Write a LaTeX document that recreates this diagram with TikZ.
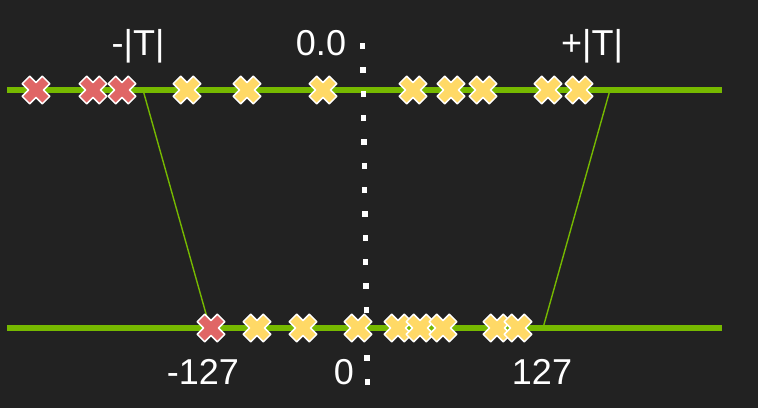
\documentclass[tikz,border=0pt]{standalone}
\usepackage{fontspec}
\setmainfont{Liberation Sans}
\definecolor{bg}{HTML}{222222}
\definecolor{lgreen}{RGB}{118,185,0}
\definecolor{xred}{RGB}{224,102,102}
\definecolor{xyellow}{RGB}{255,217,102}
\tikzset{
  axisline/.style={draw=lgreen, line width=6pt},
  mapline/.style={draw=lgreen, line width=1.4pt},
  dotsq/.style={fill=white},
  xmk/.style={draw=white, line width=1.5pt, line join=round, fill=#1},
  lbl/.style={text=white, inner sep=0pt, anchor=base, font=\fontsize{36}{40}\selectfont}
}
\newcommand\xcross[3]{%
  \path[xmk=#3, shift={(#1,#2)}, rotate=45]
    (-5.3,-14.2)--(5.3,-14.2)--(5.3,-5.3)--(14.2,-5.3)--(14.2,5.3)--(5.3,5.3)--(5.3,14.2)
    --(-5.3,14.2)--(-5.3,5.3)--(-14.2,5.3)--(-14.2,-5.3)--(-5.3,-5.3)--cycle;}
\begin{document}
\begin{tikzpicture}[x=1pt,y=-1pt]
\fill[bg] (0,0) rectangle (758,408);
\useasboundingbox (0,0) rectangle (758,408);
% axes
\coordinate (tl) at (7,90);
\coordinate (tr) at (722,90);
\coordinate (bl) at (7,328);
\coordinate (br) at (722,328);
\draw[axisline] (tl) -- (tr);
\draw[axisline] (bl) -- (br);
% mapping lines
\coordinate (mlt) at (143,90);
\coordinate (mlb) at (210,328);
\coordinate (mrt) at (610,90);
\coordinate (mrb) at (543,328);
\draw[mapline] (mlt) -- (mlb);
\draw[mapline] (mrt) -- (mrb);
% dotted zero line
\foreach \k in {0,...,14}{
  \pgfmathsetmacro\yy{46+24*\k}
  \pgfmathsetmacro\xx{362.7+4.6*\k/14}
  \fill[dotsq] (\xx-2.6,\yy-2.6) rectangle (\xx+2.6,\yy+2.6);
}
% top crosses
\foreach \x in {36,93,122}{\xcross{\x}{90}{xred}}
\foreach \x in {187,247,323,413,451,483,548,579}{\xcross{\x}{90}{xyellow}}
% bottom crosses
\xcross{211}{328}{xred}
\foreach \x in {257,303,358,398,420,443,497,518}{\xcross{\x}{328}{xyellow}}
% labels
\node[lbl] (tneg) at (138,55) {-|T|};
\node[lbl] (tzero) at (321,55) {0.0};
\node[lbl] (tpos) at (592,55) {+|T|};
\node[lbl] (bneg) at (203,384) {-127};
\node[lbl] (bzero) at (344,384) {0};
\node[lbl] (bpos) at (542,384) {127};
\end{tikzpicture}
\end{document}
